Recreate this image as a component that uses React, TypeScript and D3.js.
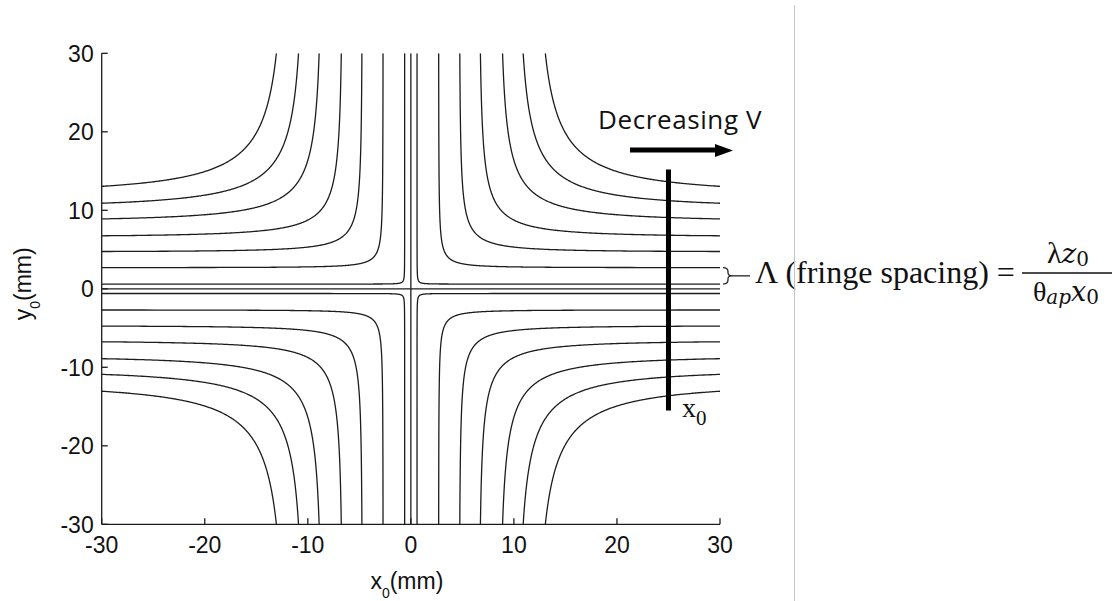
import React from 'react';
import * as d3 from 'd3';

// Axis ticks (mm)
const X_TICKS = [-30, -20, -10, 0, 10, 20, 30];
const Y_TICKS = [-30, -20, -10, 0, 10, 20, 30];

// Fringe contours: |y0| where each contour meets the plot edge |x0| = 30 mm
// (the family is symmetric, so the same value is where it meets |y0| = 30 mm)
const FRINGE_EDGE = [0.6, 2.7, 4.75, 6.75, 8.9, 10.9, 13.05];
const EDGE = 30;

// Measurement line at x0 = 25 mm and the fringe pair it brackets
const PROBE_X = 25;
const PROBE_Y = [-15.5, 15.2];
const BRACKET_FRINGES = [2.7, 0.6];

const W = 1120;
const H = 601;
const PLOT = { left: 101.7, right: 720, top: 53.3, bottom: 524.3 };

const xScale = d3.scaleLinear().domain([-30, 30]).range([PLOT.left, PLOT.right]);
const yScale = d3.scaleLinear().domain([-30, 30]).range([PLOT.bottom, PLOT.top]);

const line = d3
  .line<[number, number]>()
  .x((d) => xScale(d[0]))
  .y((d) => yScale(d[1]));

// Contour 1/x^2 + 1/y^2 = k in the quadrant (sx, sy), traced by its angle parameter
function fringePath(e: number, sx: number, sy: number): string {
  const k = 1 / (EDGE * EDGE) + 1 / (e * e);
  const rk = Math.sqrt(k);
  const t0 = Math.acos(1 / (EDGE * rk));
  const t1 = Math.acos(1 / (e * rk));
  const n = 300;
  const pts: [number, number][] = d3.range(n + 1).map((i) => {
    const t = t0 + ((t1 - t0) * i) / n;
    return [sx / (rk * Math.cos(t)), sy / (rk * Math.sin(t))];
  });
  return line(pts) || '';
}

const QUADRANTS: [number, number][] = [
  [1, 1],
  [-1, 1],
  [-1, -1],
  [1, -1],
];

const TICK_FONT = "'Liberation Sans', Arial, sans-serif";
const SERIF = "'Liberation Serif', 'Times New Roman', serif";
const MATH = "'DejaVu Serif', 'Liberation Serif', serif";

export default function App() {
  const ink = '#1c1c1c';
  const yTop = yScale(BRACKET_FRINGES[0]);
  const yBot = yScale(BRACKET_FRINGES[1]);
  const yMid = (yTop + yBot) / 2;
  const bx = PLOT.right + 3;

  return (
    <svg
      width={W}
      height={H}
      viewBox={`0 0 ${W} ${H}`}
      style={{ position: 'absolute', left: 0, top: 0, background: '#fff' }}
    >
      <defs>
        <clipPath id="plot-clip">
          <rect x={PLOT.left} y={PLOT.top} width={PLOT.right - PLOT.left} height={PLOT.bottom - PLOT.top} />
        </clipPath>
      </defs>
      <rect width={W} height={H} fill="#fff" />

      {/* fringe contours */}
      <g clipPath="url(#plot-clip)" fill="none" stroke={ink} strokeWidth={1.3}>
        {FRINGE_EDGE.map((e) =>
          QUADRANTS.map(([sx, sy]) => <path key={`${e}-${sx}-${sy}`} d={fringePath(e, sx, sy)} />)
        )}
        {/* zero-order lines on the axes */}
        <line x1={xScale(0)} x2={xScale(0)} y1={PLOT.top} y2={PLOT.bottom} />
        <line x1={PLOT.left} x2={PLOT.right} y1={yScale(0)} y2={yScale(0)} />
      </g>

      {/* axes */}
      <g stroke={ink} strokeWidth={1.3} fill="none">
        <line x1={PLOT.left} x2={PLOT.left} y1={PLOT.top} y2={PLOT.bottom} />
        <line x1={PLOT.left} x2={PLOT.right} y1={PLOT.bottom} y2={PLOT.bottom} />
        {Y_TICKS.map((t) => (
          <line key={'yt' + t} x1={PLOT.left} x2={PLOT.left + 6} y1={yScale(t)} y2={yScale(t)} />
        ))}
        {X_TICKS.map((t) => (
          <line key={'xt' + t} x1={xScale(t)} x2={xScale(t)} y1={PLOT.bottom} y2={PLOT.bottom - 6} />
        ))}
      </g>
      <g fontFamily={TICK_FONT} fontSize={23} fill="#111">
        {Y_TICKS.map((t) => (
          <text key={'yl' + t} x={PLOT.left - 8} y={yScale(t)} dy="0.36em" textAnchor="end">
            {t}
          </text>
        ))}
        {X_TICKS.map((t) => (
          <text key={'xl' + t} x={xScale(t)} y={PLOT.bottom + 29} textAnchor="middle">
            {t}
          </text>
        ))}
        <text x={xScale(0) - 4} y={589} textAnchor="middle">
          x<tspan fontSize={14} dy={9}>0</tspan>
          <tspan dy={-9}>(mm)</tspan>
        </text>
        <text transform={`translate(31, ${yScale(0) - 5}) rotate(-90)`} textAnchor="middle">
          y<tspan fontSize={14} dy={9}>0</tspan>
          <tspan dy={-9}>(mm)</tspan>
        </text>
      </g>

      {/* annotations */}
      <text
        x={598}
        y={129}
        fontFamily="'Open Sans', Lato, sans-serif"
        fontSize={26}
        letterSpacing={0.6}
        fill="#111"
      >
        Decreasing V
      </text>
      <rect x={630} y={147.5} width={88} height={5} fill="#000" />
      <path d="M715,144 L733,150.5 L715,157 Z" fill="#000" />

      <line
        x1={xScale(PROBE_X)}
        x2={xScale(PROBE_X)}
        y1={yScale(PROBE_Y[1])}
        y2={yScale(PROBE_Y[0])}
        stroke="#000"
        strokeWidth={5}
      />
      <text x={682} y={417} fontFamily={SERIF} fontSize={28} fill="#111">
        x<tspan fontSize={21} dy={8}>0</tspan>
      </text>

      {/* fringe spacing bracket */}
      <path
        d={`M${bx},${yTop} Q${bx + 5},${yTop} ${bx + 5},${yTop + 4} L${bx + 5},${yMid - 3} Q${bx + 5},${yMid} ${bx + 9},${yMid} Q${bx + 5},${yMid} ${bx + 5},${yMid + 3} L${bx + 5},${yBot - 4} Q${bx + 5},${yBot} ${bx},${yBot}`}
        fill="none"
        stroke="#222"
        strokeWidth={1.3}
      />
      <line x1={bx + 9} x2={bx + 27} y1={yMid} y2={yMid} stroke="#222" strokeWidth={1.3} />
      <text x={755} y={283} fontFamily={SERIF} fontSize={32} fill="#111">
        Λ (fringe spacing) =
      </text>
      {/* fraction */}
      <g fill="#111">
        <text x={1068} y={263} fontSize={30} textAnchor="middle" fontFamily={SERIF}>
          λ<tspan fontStyle="italic" fontFamily={MATH} fontSize={28}>z</tspan>
          <tspan fontSize={20} dy={3} fontFamily={MATH}>0</tspan>
        </text>
        <line x1={1022} x2={1112} y1={273} y2={273} stroke="#111" strokeWidth={1.4} />
        <text x={1066} y={301} fontSize={28} textAnchor="middle" fontFamily={SERIF}>
          θ<tspan fontSize={20} dy={3} fontStyle="italic" fontFamily={MATH}>ap</tspan>
          <tspan dy={-3} fontStyle="italic" fontFamily={MATH} fontSize={27}>x</tspan>
          <tspan fontSize={20} dy={3} fontFamily={MATH}>0</tspan>
        </text>
      </g>

      {/* panel divider */}
      <line x1={794.5} x2={794.5} y1={5} y2={H} stroke="#c4c4c4" strokeWidth={1} />
    </svg>
  );
}
